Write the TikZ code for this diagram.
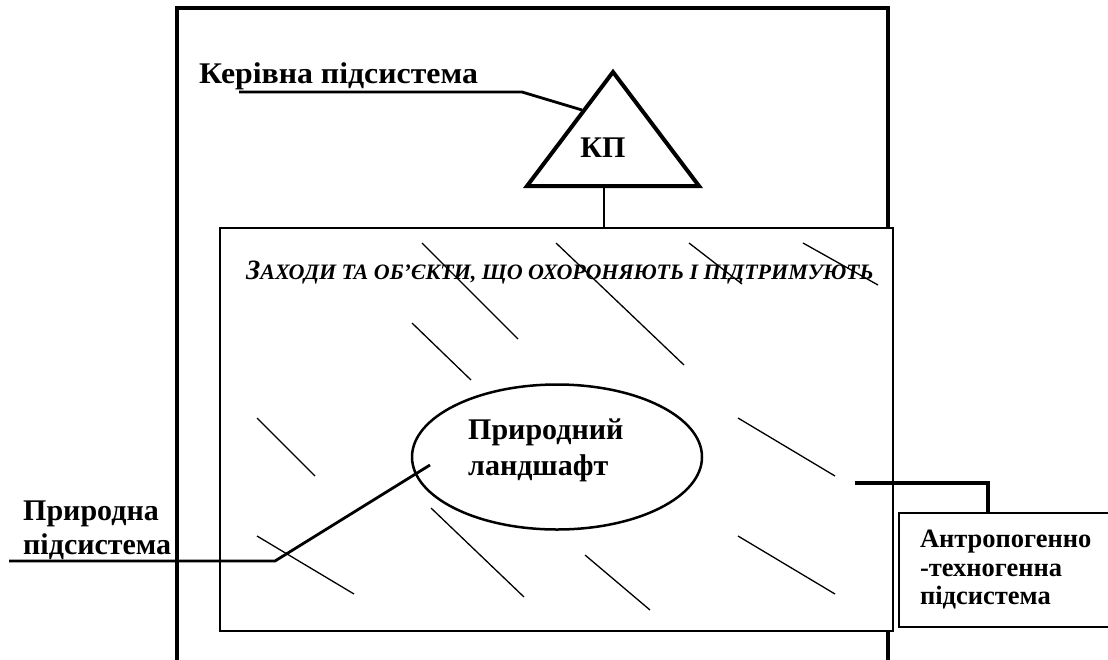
\documentclass[tikz,border=0pt]{standalone}
\usepackage{fontspec}
\setmainfont{Liberation Serif}
\usetikzlibrary{positioning, shapes.geometric}

\tikzset{
  labeltext/.style={font=\fontsize{30}{34}\selectfont\bfseries, align=left, inner sep=0pt},
  hatch/.style={line width=1.3pt},
  leader/.style={line width=2.8pt}
}

\begin{document}
\begin{tikzpicture}[x=1pt, y=-1pt]
  \path[use as bounding box, clip] (0,0) rectangle (1108,659);
  \draw[line width=3.5pt] (177,8) rectangle (888,700);
  \node[draw, fill=white, line width=2pt, inner sep=0pt, anchor=north west,
        minimum width=673pt, minimum height=403pt] (zahody) at (219,227) {};

  \coordinate (apex) at (613,72);
  \coordinate (baseleft) at (527,186);
  \coordinate (baseright) at (699,186);
  \coordinate (kpbase) at (604,186);
  \draw[line width=4pt, line join=miter] (apex) -- (baseright) -- (baseleft) -- cycle;
  \node[labeltext, anchor=base] (kp) at (603,157) {КП};
  \draw[line width=2pt] (kpbase) -- (kpbase |- zahody.north);

  \node[labeltext, font=\fontsize{30}{34}\selectfont\bfseries\addfontfeature{FakeStretch=1.06},
        anchor=base west] (kerivna) at (199,83) {Керівна підсистема};
  \coordinate (kerivend) at (582,110);
  \draw[leader] ([xshift=40pt, yshift=-9pt]kerivna.base west) -- (522,92) -- (kerivend);

  \node[font=\fontsize{22}{26}\selectfont\bfseries\itshape, inner sep=0pt, anchor=base west]
    (zahodytext) at (246,279) {{\fontsize{28}{30}\selectfont З}АХОДИ ТА ОБ’ЄКТИ, ЩО ОХОРОНЯЮТЬ І ПІДТРИМУЮТЬ};

  \foreach \xa/\ya/\xb/\yb in {422/243/518/339, 556/243/684/365, 689/243/742/284,
      803/243/878/285, 412/323/471/380, 257/418/315/476, 738/418/835/476,
      257/536/354/594, 431/508/524/597, 585/555/650/610, 738/536/835/594}
    \draw[hatch] (\xa,\ya) -- (\xb,\yb);

  \node[draw, ellipse, line width=2.5pt, minimum width=290pt, minimum height=145pt] (landscape) at (557,457) {};
  \node[labeltext, font=\fontsize{30}{36}\selectfont\bfseries, anchor=west] (landtext) at (468,450) {Природний\\ландшафт};

  \node[labeltext, anchor=west] (pryrodna) at (23,530) {Природна\\підсистема};
  \coordinate (prstart) at (9,561);
  \coordinate (landpoint) at (430,465);
  \draw[leader] (prstart) -- (275,561) -- (landpoint);

  \node[draw, line width=2pt, anchor=north west, text width=200pt, inner xsep=21pt,
        minimum height=114pt, font=\fontsize{26.5}{28.5}\selectfont\bfseries, align=left]
    (antro) at (898,512) {Антропогенно\\-техногенна\\підсистема};
  \coordinate (antstart) at (855,483);
  \draw[line width=3.5pt] (antstart) -| ([xshift=90pt]antro.north west);
\end{tikzpicture}
\end{document}
